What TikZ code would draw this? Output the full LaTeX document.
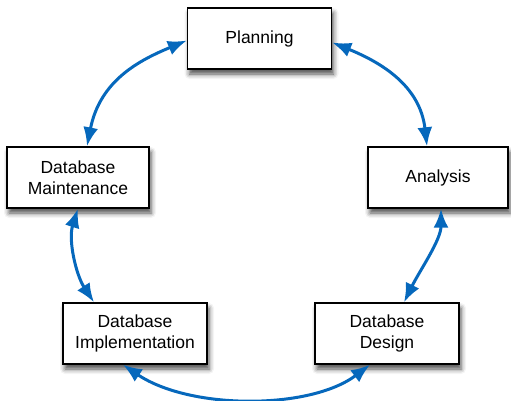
\documentclass[tikz,border=0pt]{standalone}
\usepackage{fontspec}
\setmainfont{Liberation Sans}
\usetikzlibrary{arrows.meta,shadows.blur,calc}
\definecolor{arrowblue}{RGB}{6,104,188}
\begin{document}
\begin{tikzpicture}[x=1pt,y=-1pt,
  box/.style={draw=black,line width=1.4pt,fill=white,minimum width=144pt,minimum height=61pt,
    align=center,font=\fontsize{17.5}{21}\selectfont,inner sep=2pt,
    blur shadow={shadow xshift=2pt,shadow yshift=-5pt,shadow blur radius=5pt,shadow opacity=70}},
  link/.style={draw=arrowblue,line width=3pt,{Latex[length=19pt,width=15pt]}-{Latex[length=19pt,width=15pt]}}
]
\useasboundingbox (0,0) rectangle (511,400);
\node[box] (plan) at (259.5,38.5) {Planning};
\node[box,minimum width=142pt] (maint) at (78,177.5) {Database\\Maintenance};
\node[box,minimum width=140pt] (anal) at (438,177.5) {Analysis};
\node[box] (impl) at (135,333.5) {Database\\Implementation};
\node[box] (design) at (387,333.5) {Database\\Design};

\draw[link] ([yshift=-2pt]plan.west) .. controls (140,60) and (100,80) .. ([xshift=9pt]maint.north);
\draw[link] ([yshift=-4pt]plan.east) .. controls (380,62) and (420,85) .. ([xshift=-11pt]anal.north);
\draw[link] ([xshift=3pt]anal.south) .. controls (441,240) and (420,270) .. ([xshift=17pt]design.north);
\draw[link] (maint.south) .. controls (68,240) and (76,275) .. ([xshift=-41pt]impl.north);
\draw[link] ([xshift=-12pt]impl.south) .. controls (190,410) and (310,410) .. ([xshift=-17pt]design.south);
\end{tikzpicture}
\end{document}
